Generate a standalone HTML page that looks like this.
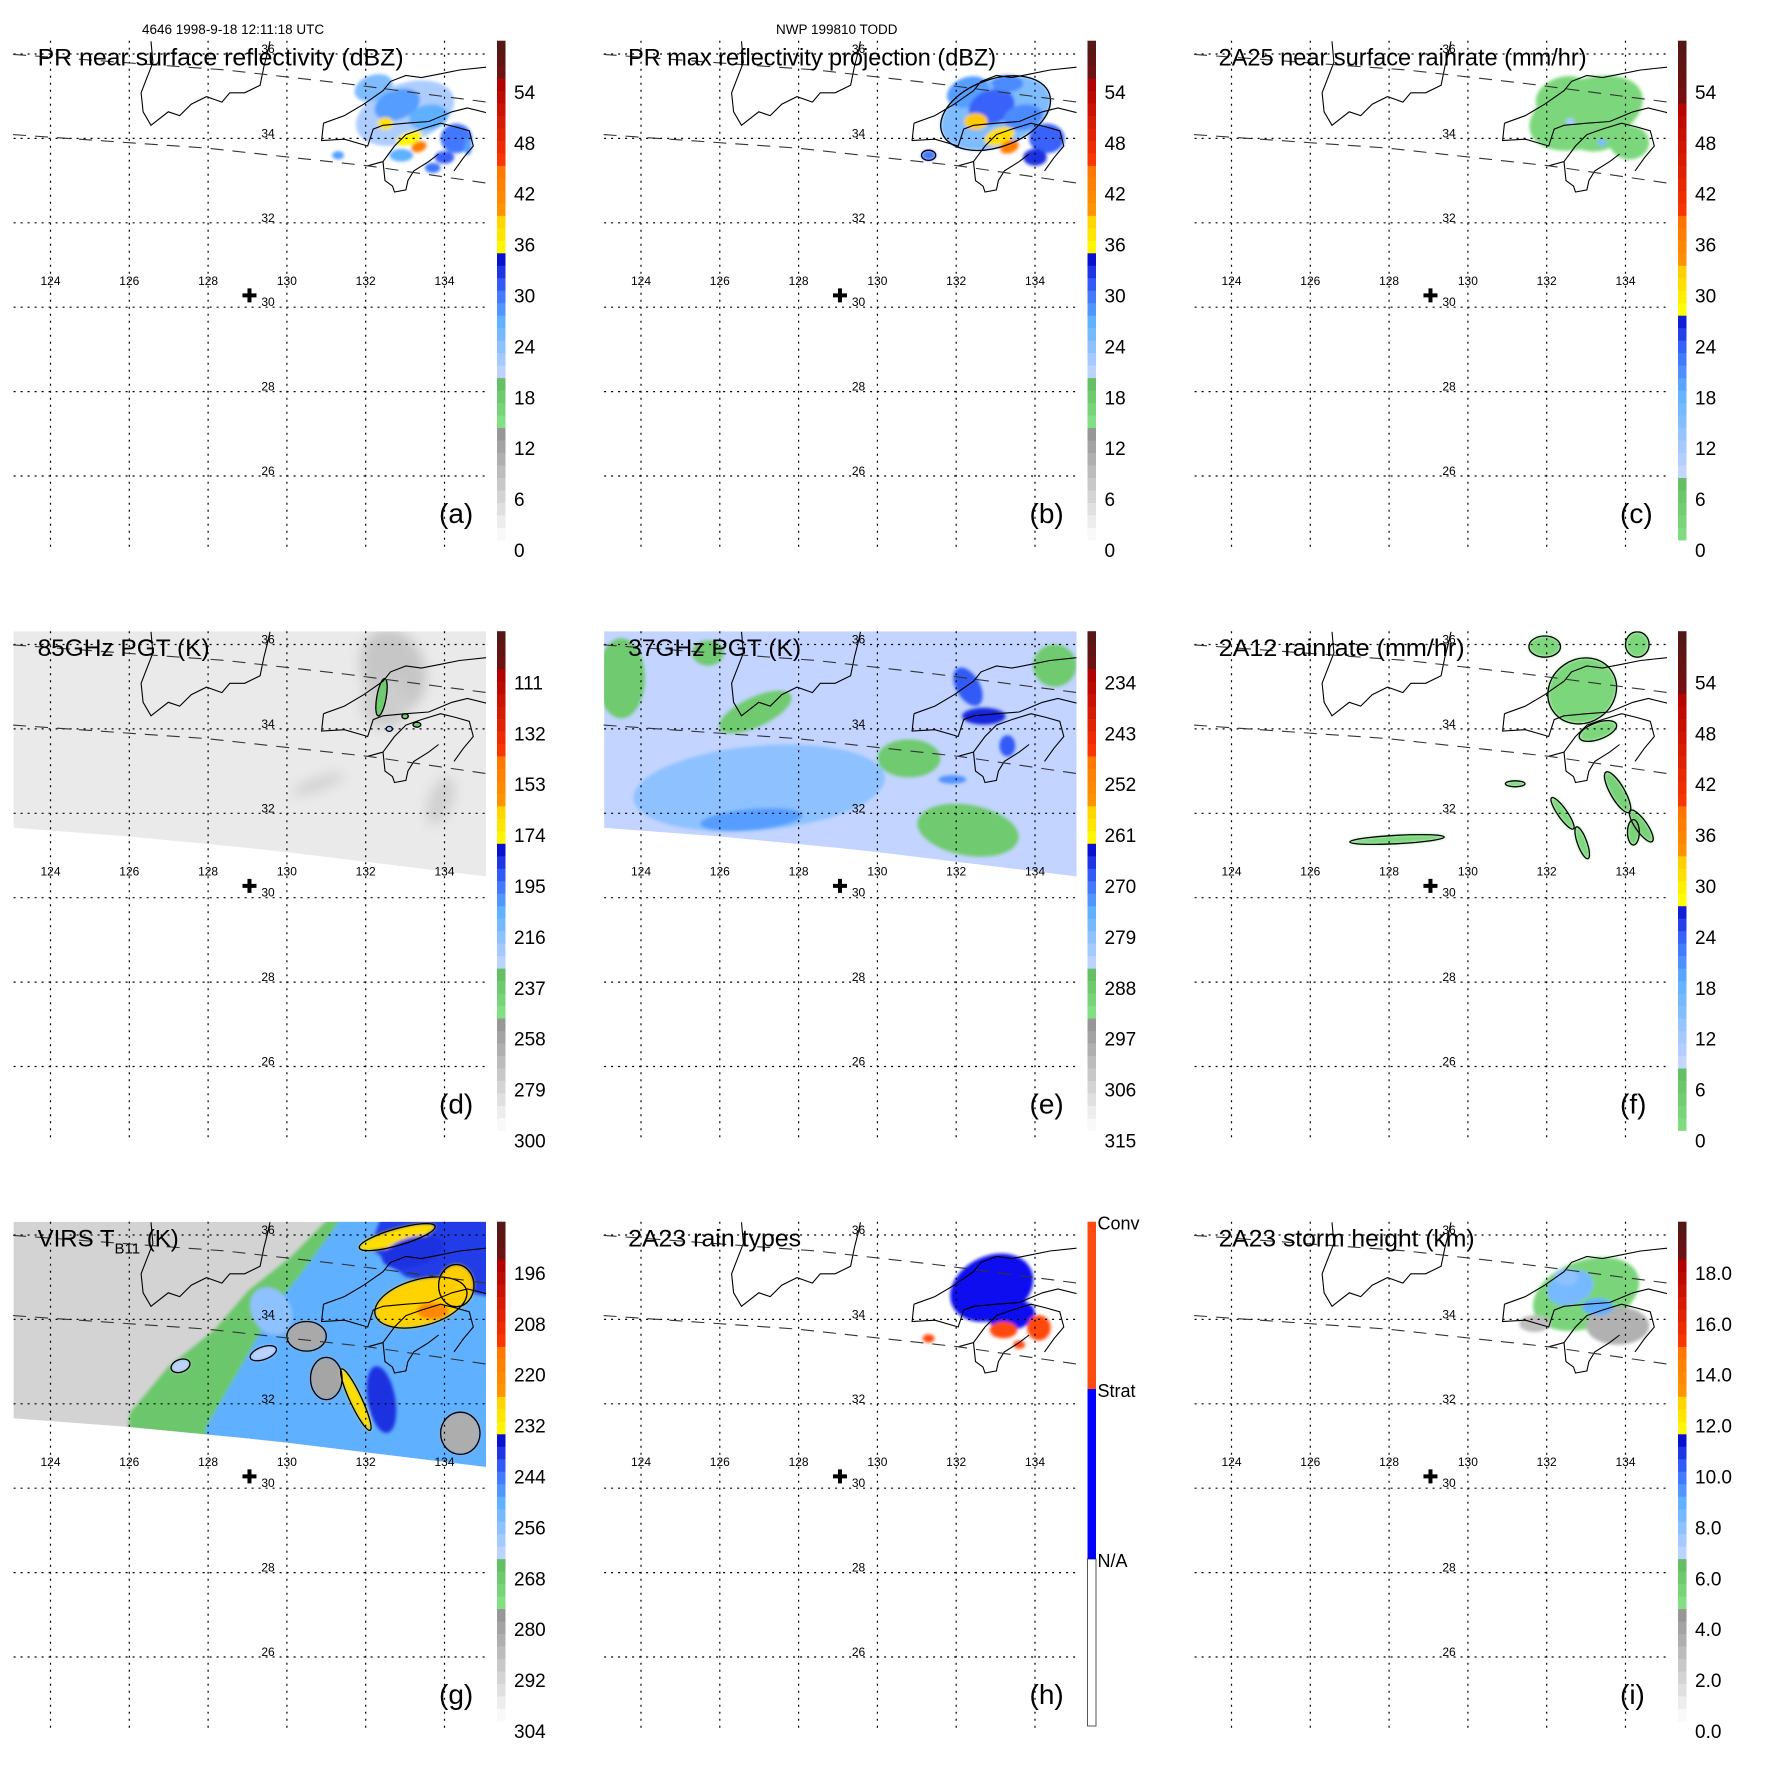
<!DOCTYPE html>
<html><head><meta charset="utf-8"><title>TRMM multi-panel</title>
<style>
html,body{margin:0;padding:0;background:#fff;}
svg{display:block;font-family:"Liberation Sans",sans-serif;}
</style></head>
<body>
<svg id="fig" xmlns="http://www.w3.org/2000/svg" width="1771" height="1771" viewBox="0 0 1771 1771">
<defs>
<filter id="soft" x="-20%" y="-20%" width="140%" height="140%"><feGaussianBlur stdDeviation="1.6"/></filter>
<filter id="softer" x="-30%" y="-30%" width="160%" height="160%"><feGaussianBlur stdDeviation="6"/></filter>
</defs>
<text x="142" y="34" font-size="13.5">4646 1998-9-18 12:11:18 UTC</text>
<text x="776" y="34" font-size="13.5">NWP 199810 TODD</text>
</svg>
<script>
// ---------- data ----------
const latGrid = [36,34,32,30,28,26];
const lonGrid = [124,126,128,130,132,134];
const crossLon = 129.05, crossLat = 30.28;
const koreaLon = [126.55,126.6,126.45,126.3,126.35,126.55,126.99,127.28,127.57,127.96,128.35,128.55,128.93,129.32,129.42,129.52,129.57];
const koreaLat = [36.3,35.8,35.44,35.08,34.63,34.31,34.63,34.54,34.81,34.99,34.86,35.08,35.08,35.26,35.71,36.08,36.3];
const honshuLon = [130.93,131.46,131.95,132.44,132.63,133.02,133.41,133.9,134.38,135.07];
const honshuLat = [34.36,34.54,34.81,35.13,35.35,35.49,35.44,35.53,35.62,35.69];
const innerLon = [130.93,130.88,131.46,132.05,132.19,132.44,133.02,133.6,134.19,134.58,135.07];
const innerLat = [34.36,33.95,33.98,33.82,34.22,34.31,34.36,34.4,34.63,34.72,34.61];
const kyushuLon = [132.05,132.44,132.49,132.68,132.73,133.02,133.07,133.22,133.6,133.85];
const kyushuLat = [33.35,33.45,33.0,32.87,32.73,32.78,33.0,33.23,33.45,33.63];
const shikokuLon = [134.24,134.48,134.73,134.63,134.29,133.9,133.41,133.02,132.73,132.44];
const shikokuLat = [33.23,33.54,33.82,34.18,34.27,34.36,34.22,34.09,33.82,33.45];
const swathUpLon = [123.05,128.45,131.46,135.07];
const swathUpLat = [35.99,35.62,35.3,34.86];
const swathLoLon = [123.05,127.96,132.05,135.07];
const swathLoLat = [34.09,33.77,33.35,32.94];
const pmEdgeLon = [123.0,126,129,130,132,135.1];
const pmEdgeLat = [31.66,31.45,31.18,31.08,30.85,30.5];

const ticksA = ["0","6","12","18","24","30","36","42","48","54"];
const ticksB = ["0","6","12","18","24","30","36","42","48","54"];
const ticksC = ["0","6","12","18","24","30","36","42","48","54"];
const ticksD = ["300","279","258","237","216","195","174","153","132","111"];
const ticksE = ["315","306","297","288","279","270","261","252","243","234"];
const ticksF = ["0","6","12","18","24","30","36","42","48","54"];
const ticksG = ["304","292","280","268","256","244","232","220","208","196"];
const ticksI = ["0.0","2.0","4.0","6.0","8.0","10.0","12.0","14.0","16.0","18.0"];
const rainTypeLabels = ["N/A","Strat","Conv"];

const gGreenLon=[131.17,130.1,129.03,128.16,126.99,126.01,125.8,135.3,135.3];
const gGreenLat=[36.5,35.48,34.69,33.75,32.88,31.78,30.0,30.0,36.5];
const gGreenVal=267;
const gBlueLon=[131.47,130.5,129.7,129.03,127.96,127.9,135.3,135.3];
const gBlueLat=[36.5,35.25,34.3,33.2,31.46,30.0,30.0,36.5];
const gBlueVal=250;
const gDarkLon=[132.4,132.1,133.0,134.2,135.3,135.3];
const gDarkLat=[36.5,35.7,35.0,34.7,34.5,36.5];
const gDarkVal=239;

const aLon=[133.0,132.2,132.8,133.6,134.3,132.5,133.1,133.35,134.0,131.3,132.9,133.7,134.6];
const aLat=[34.6,35.2,34.8,34.5,34.0,34.35,34.0,33.8,33.55,33.6,33.6,33.3,33.8];
const aRx=[1.3,0.5,0.6,0.5,0.4,0.2,0.35,0.2,0.25,0.15,0.3,0.2,0.1];
const aRy=[0.7,0.3,0.35,0.3,0.35,0.15,0.15,0.12,0.15,0.1,0.15,0.12,0.2];
const aRot=[-20,-20,-20,-10,0,0,-20,-20,0,0,0,0,0];
const aVal=[22,25,28,27,30,38,36,44,31,28,27,30,28];
const aLine=[0,0,0,0,0,0,0,0,0,0,0,0,0];

const bLon=[133.0,132.3,132.9,133.7,134.3,132.5,133.1,133.35,134.0,131.3,133.3];
const bLat=[34.6,35.1,34.75,34.5,34.0,34.4,34.05,33.8,33.55,33.6,35.3];
const bRx=[1.45,0.55,0.6,0.5,0.45,0.3,0.4,0.25,0.3,0.18,0.4];
const bRy=[0.8,0.35,0.4,0.3,0.35,0.2,0.2,0.15,0.2,0.12,0.2];
const bRot=[-20,-20,-20,-10,0,0,-20,-20,0,0,0];
const bVal=[25,28,31,29,31,40,38,44,33,30,29];
const bLine=[1,0,0,0,0,0,0,0,0,1,0];

const cLon=[133.0,132.4,133.3,134.1,132.6,133.4];
const cLat=[34.6,35.0,34.1,33.9,34.4,33.9];
const cRx=[1.5,0.7,0.7,0.5,0.12,0.12];
const cRy=[0.8,0.45,0.4,0.4,0.08,0.08];
const cRot=[-20,-20,-10,0,0,0];
const cVal=[3,3,3,3,12,16];
const cLine=[0,0,0,0,0,0];

const dLon=[132.7,132.5,130.8,133.9,132.4,133.0,132.6,133.3];
const dLat=[35.4,34.6,32.7,32.3,34.75,34.3,34.0,34.1];
const dRx=[0.8,0.6,0.7,0.3,0.12,0.08,0.08,0.1];
const dRy=[1.0,0.6,0.15,0.6,0.45,0.06,0.06,0.06];
const dRot=[-20,0,-20,20,10,0,0,0];
const dVal=[272,275,276,276,237,237,222,237];
const dLine=[0,0,0,0,1,1,1,1];

const eLon=[127.0,123.5,126.9,130.8,132.3,134.5,125.7,132.3,132.7,126.8,131.9,133.3];
const eLat=[32.6,35.2,34.4,33.3,31.6,35.5,35.8,35.0,34.3,31.85,32.8,33.6];
const eRx=[3.2,0.6,1.0,0.8,1.3,0.55,0.4,0.3,0.55,1.3,0.35,0.2];
const eRy=[1.0,0.95,0.35,0.45,0.6,0.5,0.3,0.5,0.2,0.25,0.1,0.25];
const eRot=[-5,0,-25,0,10,0,0,-30,0,-5,0,0];
const eVal=[279,288,288,288,288,288,288,268,265,273,272,268];
const eLine=[0,0,0,0,0,0,0,0,0,0,0,0];

const gLon=[129.6,130.5,131.0,134.4,132.4,133.4,134.3,132.8,131.75,133.7,127.3,129.4,133.2];
const gLat=[34.2,33.6,32.6,31.3,32.1,34.4,34.8,35.95,32.1,34.2,32.9,33.2,35.6];
const gRx=[0.5,0.5,0.4,0.5,0.35,1.2,0.45,1.0,0.15,0.4,0.25,0.35,0.8];
const gRy=[0.6,0.35,0.5,0.5,0.8,0.55,0.5,0.2,0.8,0.2,0.15,0.15,0.35];
const gRot=[-30,0,0,0,-10,-15,0,-16,-25,0,-20,-20,-15];
const gVal=[256,281,280,282,238,226,225,228,228,220,262,262,238];
const gLine=[0,1,1,1,0,1,1,1,1,0,1,1,0];

const fLon=[132.9,131.95,134.3,133.3,133.8,134.4,132.4,132.9,134.2,128.2,131.2];
const fLat=[34.9,35.95,36.0,33.95,32.5,31.7,32.0,31.3,31.55,31.38,32.7];
const fRx=[0.9,0.4,0.3,0.5,0.18,0.15,0.12,0.12,0.15,1.2,0.25];
const fRy=[0.75,0.25,0.3,0.2,0.55,0.45,0.45,0.4,0.3,0.1,0.07];
const fRot=[-35,0,0,-20,-30,-35,-35,-20,0,-3,0];
const fVal=[3,3,3,3,4,4,3,3,4,3,3];
const fLine=[1,1,1,1,1,1,1,1,1,1,1];

const hLon=[132.9,133.4,133.2,134.1,131.3,133.6];
const hLat=[34.75,34.1,33.75,33.8,33.55,33.4];
const hRx=[1.1,0.6,0.35,0.3,0.15,0.15];
const hRy=[0.75,0.35,0.2,0.3,0.1,0.1];
const hRot=[-25,-10,0,0,0,0];
const hVal=[1,1,2,2,2,2];
const hLine=[0,0,0,0,0,0];

const iLon=[133.0,132.6,133.8,131.7,133.3,132.5];
const iLat=[34.6,34.75,33.85,33.9,34.3,35.0];
const iRx=[1.4,0.6,0.8,0.4,0.4,0.3];
const iRy=[0.8,0.4,0.45,0.2,0.2,0.2];
const iRot=[-20,-20,0,0,0,0];
const iVal=[5.5,8.5,3.5,3.0,9.0,8.0];
const iLine=[0,0,0,0,0,0];

// ---------- rendering ----------
const NS="http://www.w3.org/2000/svg";
const svg=document.getElementById('fig');
const STEP=590.5;
const X0=50.5, DXd=39.4, Y0=307.2, DYd=42.2;
function px(lon){return X0+(lon-124)*DXd;}
function py(lat){return Y0-(lat-30)*DYd;}
const MAPL=13.6, MAPR=486, MAPT=40.7, MAPB=548;
const CBX=497, CBW=8.5, CBT=40.7, CBB=540;
const TICK0=550, TICKSP=50.9;

function mk(parent,tag,attrs){const e=document.createElementNS(NS,tag);for(const k in attrs)e.setAttribute(k,attrs[k]);parent.appendChild(e);return e;}
function hex(c){return [parseInt(c.substr(1,2),16),parseInt(c.substr(3,2),16),parseInt(c.substr(5,2),16)];}
function lerpC(a,b,t){const A=hex(a),B=hex(b);return 'rgb('+A.map((v,i)=>Math.round(v+(B[i]-v)*t)).join(',')+')';}
const stdMap=[[0,'#ffffff'],[0.235,'#8c8c8c'],[0.235,'#84e084'],[0.32,'#62bc62'],[0.32,'#ccd8ff'],[0.44,'#5eb0ff'],[0.5,'#3c6cff'],[0.574,'#0000c8'],[0.574,'#ffff00'],[0.66,'#ffc800'],[0.66,'#ff9400'],[0.75,'#ff7400'],[0.75,'#ff3a00'],[0.915,'#b00000'],[0.915,'#781010'],[1,'#501818']];
const rainMap=[[0,'#84e084'],[0.124,'#62bc62'],[0.124,'#ccd8ff'],[0.3,'#5eb0ff'],[0.38,'#3c6cff'],[0.46,'#0000c8'],[0.46,'#ffff00'],[0.55,'#ffc800'],[0.55,'#ff9400'],[0.64,'#ff7400'],[0.64,'#ff3a00'],[0.88,'#b00000'],[0.88,'#781010'],[1,'#501818']];
function cmap(stops,f){f=Math.max(0,Math.min(1,f));for(let i=0;i<stops.length-1;i++){const a=stops[i],b=stops[i+1];if(f>=a[0]&&f<=b[0]&&b[0]>a[0])return lerpC(a[1],b[1],(f-a[0])/(b[0]-a[0]));}return stops[stops.length-1][1];}
function valFrac(ticks,v){const t0=parseFloat(ticks[0]),t9=parseFloat(ticks[ticks.length-1]);const y=TICK0-(v-t0)/(t9-t0)*TICKSP*(ticks.length-1);return (CBB-y)/(CBB-CBT);}
function poly(lons,lats){return lons.map((l,i)=>px(l).toFixed(1)+','+py(lats[i]).toFixed(1)).join(' ');}

const panels=[
 {key:'a',title:'PR near surface reflectivity (dBZ)',tw:366,ticks:ticksA,map:stdMap,lon:aLon,lat:aLat,rx:aRx,ry:aRy,rot:aRot,val:aVal,line:aLine,base:null},
 {key:'b',title:'PR max reflectivity projection (dBZ)',tw:368,ticks:ticksB,map:stdMap,lon:bLon,lat:bLat,rx:bRx,ry:bRy,rot:bRot,val:bVal,line:bLine,base:null},
 {key:'c',title:'2A25 near surface rainrate (mm/hr)',tw:368,ticks:ticksC,map:rainMap,lon:cLon,lat:cLat,rx:cRx,ry:cRy,rot:cRot,val:cVal,line:cLine,base:null},
 {key:'d',title:'85GHz PGT (K)',tw:172,ticks:ticksD,map:stdMap,lon:dLon,lat:dLat,rx:dRx,ry:dRy,rot:dRot,val:dVal,line:dLine,base:287},
 {key:'e',title:'37GHz PGT (K)',tw:173,ticks:ticksE,map:stdMap,lon:eLon,lat:eLat,rx:eRx,ry:eRy,rot:eRot,val:eVal,line:eLine,base:284},
 {key:'f',title:'2A12 rainrate (mm/hr)',tw:246,ticks:ticksF,map:rainMap,lon:fLon,lat:fLat,rx:fRx,ry:fRy,rot:fRot,val:fVal,line:fLine,base:null},
 {key:'g',title:'VIRS',tw:0,ticks:ticksG,map:stdMap,lon:gLon,lat:gLat,rx:gRx,ry:gRy,rot:gRot,val:gVal,line:gLine,base:291},
 {key:'h',title:'2A23 rain types',tw:173,ticks:null,map:null,lon:hLon,lat:hLat,rx:hRx,ry:hRy,rot:hRot,val:hVal,line:hLine,base:null},
 {key:'i',title:'2A23 storm height (km)',tw:256,ticks:ticksI,map:stdMap,lon:iLon,lat:iLat,rx:iRx,ry:iRy,rot:iRot,val:iVal,line:iLine,base:null}
];
const typeColor={1:'#0a10f0',2:'#ff4a10'};

panels.forEach((p,idx)=>{
  const col=idx%3,row=Math.floor(idx/3);
  const g=mk(svg,'g',{transform:'translate('+(col*STEP).toFixed(1)+','+(row*STEP).toFixed(1)+')'});
  
  
  const cp=mk(g,'clipPath',{id:'clip-'+p.key});
  
  
  const cr=mk(cp,'rect',{x:MAPL,y:MAPT,width:MAPR-MAPL,height:MAPB-MAPT});
  
  
  let clipId='clip-'+p.key;
  if(p.base!==null){
    const cp2=mk(g,'clipPath',{id:'swath-'+p.key});
    
    
    const pts=poly(pmEdgeLon,pmEdgeLat)+' '+px(135.1).toFixed(1)+','+(MAPT)+' '+px(123.0).toFixed(1)+','+(MAPT);
    const sp=mk(cp2,'polygon',{points:pts});
    
    
    clipId='swath-'+p.key;
  }
  const field=mk(g,'g',{'clip-path':'url(#'+clipId+')'});
  
  
  const inner=mk(field,'g',{'clip-path':'url(#clip-'+p.key+')'});
  
  
  if(p.base!==null){
    const br=mk(inner,'rect',{x:MAPL,y:MAPT,width:MAPR-MAPL,height:MAPB-MAPT,fill:cmap(p.map,valFrac(p.ticks,p.base))});
    
    
  }
  if(p.key==='g'){
    const rg=mk(inner,'g',{filter:'url(#soft)'});
    
    
    const r1=mk(rg,'polygon',{points:poly(gGreenLon,gGreenLat),fill:cmap(p.map,valFrac(p.ticks,gGreenVal))});
    
    
    const r2=mk(rg,'polygon',{points:poly(gBlueLon,gBlueLat),fill:cmap(p.map,valFrac(p.ticks,gBlueVal))});
    
    
    const r3=mk(rg,'polygon',{points:poly(gDarkLon,gDarkLat),fill:cmap(p.map,valFrac(p.ticks,gDarkVal))});
    
    
  }
  const blobs=mk(inner,'g',{filter:(p.key==='d'?'url(#softer)':'url(#soft)')});
  
  
  const og=mk(inner,'g',{fill:'none',stroke:'#000','stroke-width':1.3});
  
  
  p.lon.forEach((lon,k)=>{
    const cx=px(lon),cy=py(p.lat[k]);
    const fill=p.map?cmap(p.map,valFrac(p.ticks,p.val[k])):typeColor[p.val[k]];
    const target=(p.key==='d'&&p.line[k])?inner:blobs;
    const el=mk(target,'ellipse',{cx:cx.toFixed(1),cy:cy.toFixed(1),rx:(p.rx[k]*DXd).toFixed(1),ry:(p.ry[k]*DYd).toFixed(1),fill:fill,transform:'rotate('+p.rot[k]+' '+cx.toFixed(1)+' '+cy.toFixed(1)+')'});
    
    
    if(p.line[k]){
      const ol=mk(og,'ellipse',{cx:cx.toFixed(1),cy:cy.toFixed(1),rx:(p.rx[k]*DXd).toFixed(1),ry:(p.ry[k]*DYd).toFixed(1),transform:'rotate('+p.rot[k]+' '+cx.toFixed(1)+' '+cy.toFixed(1)+')'});
      
      
    }
  });
  inner.appendChild(og);
  const coast=mk(g,'g',{fill:'none',stroke:'#000','stroke-width':1.1,'clip-path':'url(#clip-'+p.key+')'});
  
  
  [[koreaLon,koreaLat,'korea'],[honshuLon,honshuLat,'honshu'],[innerLon,innerLat,'inland-sea'],[kyushuLon,kyushuLat,'kyushu'],[shikokuLon,shikokuLat,'shikoku']].forEach(c=>{
    const el=mk(coast,'polyline',{points:poly(c[0],c[1])});
    
    
  });
  const grid=mk(g,'g',{stroke:'#000','stroke-width':1.2,'stroke-dasharray':'2,5'});
  
  
  latGrid.forEach(lat=>{
    const el=mk(grid,'line',{x1:MAPL,x2:MAPR,y1:py(lat).toFixed(1),y2:py(lat).toFixed(1)});
    
    
  });
  lonGrid.forEach(lon=>{
    const el=mk(grid,'line',{x1:px(lon).toFixed(1),x2:px(lon).toFixed(1),y1:MAPT,y2:MAPB});
    
    
  });
  const sw=mk(g,'g',{fill:'none',stroke:'#333','stroke-width':1.1,'stroke-dasharray':'13,9'});
  
  
  const su=mk(sw,'polyline',{points:poly(swathUpLon,swathUpLat)});
  
  
  const sl=mk(sw,'polyline',{points:poly(swathLoLon,swathLoLat)});
  
  
  latGrid.forEach(lat=>{
    const el=mk(g,'text',{x:268,y:(py(lat)-1).toFixed(1),'font-size':12,'text-anchor':'middle'});
    el.textContent=String(lat);
    
    
  });
  lonGrid.forEach(lon=>{
    const el=mk(g,'text',{x:px(lon).toFixed(1),y:285,'font-size':12,'text-anchor':'middle'});
    el.textContent=String(lon);
    
    
  });
  const cx=px(crossLon),cy=py(crossLat);
  const cross=mk(g,'path',{d:'M'+(cx-7)+','+cy+'H'+(cx+7)+'M'+cx+','+(cy-7)+'V'+(cy+7),stroke:'#000','stroke-width':4});
  
  
  const t=mk(g,'text',{x:37.6,y:65.5,'font-size':24});
  
  
  if(p.key==='g'){
    t.textContent='VIRS T';
    const sub=mk(t,'tspan',{'font-size':15,dy:7});
    sub.textContent='B11';
    
    
    const rest=mk(t,'tspan',{dy:-7});
    rest.textContent=' (K)';
    
    
  } else {
    t.textContent=p.title;
    t.setAttribute('textLength',p.tw);
    t.setAttribute('lengthAdjust','spacingAndGlyphs');
  }
  const lt=mk(g,'text',{x:439,y:523,'font-size':28});
  lt.textContent='('+p.key+')';
  
  
  const cb=mk(g,'g',{});
  
  
  if(p.ticks){
    const N=40,h=(CBB-CBT)/N;
    for(let k=0;k<N;k++){
      const f=(k+0.5)/N;
      const r=mk(cb,'rect',{x:CBX,y:(CBB-(k+1)*h).toFixed(2),width:CBW,height:(h+0.4).toFixed(2),fill:cmap(p.map,f)});
      
      
    }
    p.ticks.forEach((lab,k)=>{
      const y=TICK0-k*TICKSP;
      const tx=mk(cb,'text',{x:514,y:(y+7).toFixed(1),'font-size':19});
      tx.textContent=lab;
      
      
    });
  } else {
    const segs=[[378,545,'#ffffff'],[208,378,'#0000ff'],[CBT,208,'#ff4a10']];
    segs.forEach((s,k)=>{
      const r=mk(cb,'rect',{x:CBX,y:s[0],width:CBW,height:s[1]-s[0],fill:s[2],stroke:k===0?'#555':'none','stroke-width':1});
      
      
    });
    const ly=[378,208,CBT];
    rainTypeLabels.forEach((lab,k)=>{
      const tx=mk(cb,'text',{x:507,y:(ly[k]+8).toFixed(1),'font-size':18});
      tx.textContent=lab;
      
      
    });
  }
});
</script>
</body></html>
